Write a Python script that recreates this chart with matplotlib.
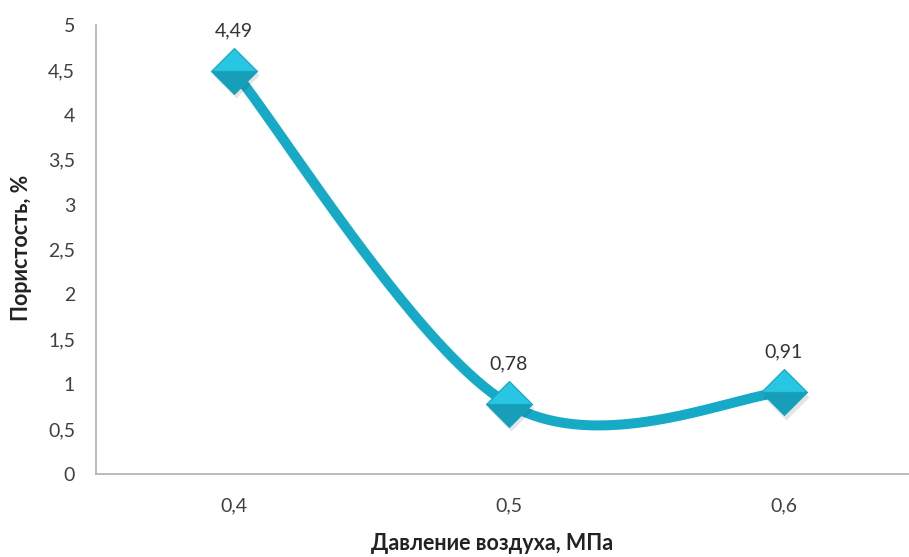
import numpy as np
import matplotlib
matplotlib.use("Agg")
import matplotlib.pyplot as plt

plt.rcParams['font.family'] = ['Lato', 'DejaVu Sans']

# Air pressure (MPa) and resulting porosity (%)
pressure_labels = ["0,4", "0,5", "0,6"]
porosity = [4.49, 0.78, 0.91]
value_labels = ["4,49", "0,78", "0,91"]
y_ticks = [0, 0.5, 1, 1.5, 2, 2.5, 3, 3.5, 4, 4.5, 5]
y_tick_labels = ["0", "0,5", "1", "1,5", "2", "2,5", "3", "3,5", "4", "4,5", "5"]


def smooth_curve(xs, ys, n=80):
    """Piecewise cubic Bezier through the points (Catmull-Rom style tangents)."""
    pts = np.column_stack([xs, ys]).astype(float)
    m = len(pts)
    out = []
    for i in range(m - 1):
        p0 = pts[i]
        p3 = pts[i + 1]
        prev = pts[i - 1] if i > 0 else pts[i]
        nxt = pts[i + 2] if i + 2 < m else pts[i + 1]
        c1 = p0 + (p3 - prev) / 6.0
        c2 = p3 - (nxt - p0) / 6.0
        t = np.linspace(0, 1, n)[:, None]
        seg = ((1 - t) ** 3) * p0 + 3 * ((1 - t) ** 2) * t * c1 \
            + 3 * (1 - t) * t ** 2 * c2 + t ** 3 * p3
        out.append(seg if i == 0 else seg[1:])
    seg = np.vstack(out)
    return seg[:, 0], seg[:, 1]


fig = plt.figure(figsize=(9.09, 5.57), dpi=100)
ax = fig.add_axes([96 / 909, 83 / 557, 825 / 909, 449 / 557])

x = np.arange(len(porosity))
sx, sy = smooth_curve(x, porosity)
ax.plot(sx, sy, color="#17aac6", lw=7.2, solid_capstyle="butt", zorder=2)

# soft shadow under the markers
ax.plot(x + 0.008, np.array(porosity) - 0.05, linestyle="none", marker="D",
        markersize=23, markerfacecolor="#000000", markeredgecolor="none",
        alpha=0.10, zorder=3)
ax.plot(x, porosity, linestyle="none", marker="D", markersize=23,
        fillstyle="top", markerfacecolor="#27c6e2",
        markerfacecoloralt="#179fba", markeredgecolor="#18a4be",
        markeredgewidth=0.8, zorder=4)

for xi, yi, lab in zip(x, porosity, value_labels):
    ax.annotate(lab, (xi, yi), xytext=(0, 29), textcoords="offset points",
                ha="center", va="center", fontsize=14, color="#333333")

ax.set_xlim(-0.5, 2.5)
ax.set_ylim(0, 5)
ax.set_xticks(x)
ax.set_xticklabels(pressure_labels)
ax.set_yticks(y_ticks)
ax.set_yticklabels(y_tick_labels)
ax.tick_params(axis="both", length=0, labelsize=14, labelcolor="#404040")
ax.tick_params(axis="y", pad=15)
ax.tick_params(axis="x", pad=17)

for side in ("top", "right"):
    ax.spines[side].set_visible(False)
for side in ("left", "bottom"):
    ax.spines[side].set_color("#b5b5b5")
    ax.spines[side].set_linewidth(1.3)

fig.text(22 / 909, 1 - 248 / 557, "Пористость, %", rotation=90, ha="center",
         va="center", fontsize=15.5, fontweight="bold", color="#222222")
fig.text(492 / 909, 1 - 544 / 557, "Давление воздуха, МПа", ha="center",
         va="center", fontsize=15.5, fontweight="bold", color="#222222")

fig.savefig("out.png", dpi=100)
